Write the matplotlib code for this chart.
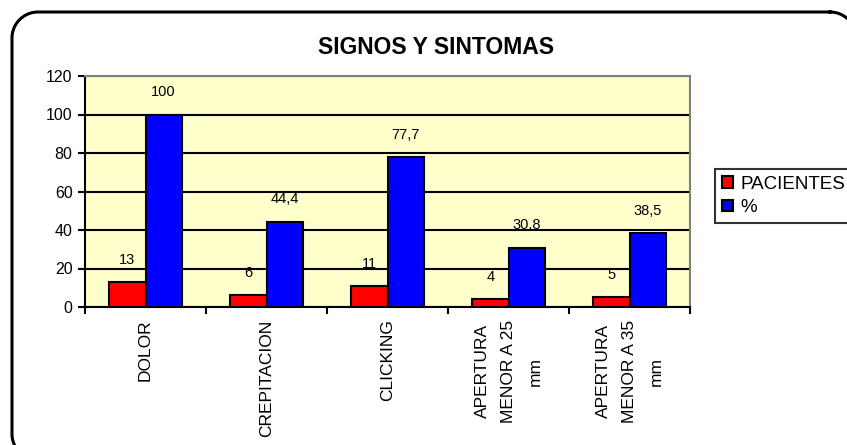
import numpy as np
import matplotlib
matplotlib.use('Agg')
import matplotlib.pyplot as plt

plt.rcParams['font.family'] = ['Liberation Sans', 'DejaVu Sans']

# datos
categorias = ['DOLOR', 'CREPITACION', 'CLICKING',
              'APERTURA\nMENOR A 25\nmm', 'APERTURA\nMENOR A 35\nmm']
pacientes = [13, 6, 11, 4, 5]
porcentaje = [100, 44.4, 77.7, 30.8, 38.5]
etiq_pac = ['13', '6', '11', '4', '5']
etiq_pct = ['100', '44,4', '77,7', '30,8', '38,5']

W, H = 847, 445
fig = plt.figure(figsize=(W / 100, H / 100), dpi=100)

# marco redondeado exterior, en un eje de fondo con unidades de pixel
fondo = fig.add_axes([0, 0, 1, 1])
fondo.set_xlim(0, W)
fondo.set_ylim(H, 0)
fondo.axis('off')


def rect_redondeado(x0, y0, x1, y1, r, n=20):
    xs, ys = [], []
    esquinas = [(x1 - r, y0 + r, -90, 0), (x1 - r, y1 - r, 0, 90),
                (x0 + r, y1 - r, 90, 180), (x0 + r, y0 + r, 180, 270)]
    for cx, cy, a0, a1 in esquinas:
        t = np.radians(np.linspace(a0, a1, n))
        xs.extend(cx + r * np.cos(t))
        ys.extend(cy + r * np.sin(t))
    xs.append(xs[0])
    ys.append(ys[0])
    return xs, ys


mx, my = rect_redondeado(12, 12, 856, 460, 26)
fondo.plot(mx, my, color='black', linewidth=2.2, clip_on=False,
           solid_joinstyle='round')

ax = fig.add_axes([85 / W, 1 - 307 / H, (690 - 85) / W, (307 - 76) / H])
ax.set_facecolor('#FFFFCC')

x = np.arange(len(categorias))
ancho = 0.3
b1 = ax.bar(x - ancho / 2, pacientes, ancho, color='#FF0000',
            edgecolor='black', linewidth=1.5, label='PACIENTES', zorder=3)
b2 = ax.bar(x + ancho / 2, porcentaje, ancho, color='#0000FF',
            edgecolor='black', linewidth=1.5, label='%', zorder=3)

for barras, textos in ((b1, etiq_pac), (b2, etiq_pct)):
    for b, t in zip(barras, textos):
        ax.annotate(t, (b.get_x() + b.get_width() / 2, b.get_height()),
                    xytext=(0, 11), textcoords='offset points',
                    ha='center', va='bottom', fontsize=10.5)

ax.set_xlim(-0.5, len(categorias) - 0.5)
ax.set_ylim(0, 120)
ax.set_yticks(np.arange(0, 121, 20))
ax.yaxis.grid(True, color='black', linewidth=1.5, zorder=1)
ax.set_axisbelow(True)

ax.set_xticks(x)
ax.set_xticklabels(categorias, rotation=90, ha='center', va='top',
                   multialignment='center', fontsize=12.5, linespacing=1.95)
ax.set_xticks(np.arange(-0.5, len(categorias)), minor=True)
ax.tick_params(axis='x', which='major', length=0, pad=9)
ax.tick_params(axis='x', which='minor', length=5, width=1.5, direction='out')
ax.tick_params(axis='y', length=5, width=1.5, direction='out', labelsize=11.5, pad=4)

for lado in ('top', 'right'):
    ax.spines[lado].set_color('#808080')
    ax.spines[lado].set_linewidth(1.5)
for lado in ('left', 'bottom'):
    ax.spines[lado].set_color('black')
    ax.spines[lado].set_linewidth(1.5)

fig.text(436 / W, 1 - 47 / H, 'SIGNOS Y SINTOMAS', ha='center', va='center',
         fontsize=16.5, fontweight='bold')

leg = fig.legend(handles=[b1, b2], loc='upper left',
                 bbox_to_anchor=(715 / W, 1 - 169 / H), frameon=True,
                 fancybox=False, edgecolor='black', fontsize=13.5,
                 handlelength=0.6, handleheight=0.6, handletextpad=0.4,
                 borderpad=0.35, labelspacing=0.35, borderaxespad=0)
leg.get_frame().set_linewidth(1.5)

fig.savefig('out.png', dpi=100)
